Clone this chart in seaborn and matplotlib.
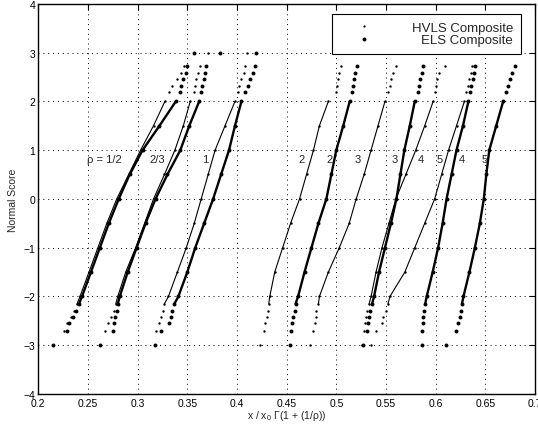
import numpy as np
import pandas as pd
import matplotlib
matplotlib.use('Agg')
import matplotlib.pyplot as plt
from matplotlib.lines import Line2D
import seaborn as sns

# normal score levels (y) shared by all curves
normal_score = [-3.0, -2.7, -2.55, -2.42, -2.3, -2.15, -2.0, -1.5, -1.0, -0.5,
                0.0, 0.5, 1.0, 1.5, 2.0, 2.2, 2.32, 2.45, 2.58, 2.73, 3.0]

nan = np.nan
# x / x0 Gamma(1 + 1/rho) at each normal score
hvls_half = [0.215, 0.226, 0.229, 0.233, 0.236, 0.239, 0.242, 0.251, 0.260, 0.269,
             0.279, 0.291, 0.303, 0.316, 0.3275, 0.332, 0.335, 0.340, 0.344, 0.347, 0.357]
els_half = [0.215, 0.229, 0.231, 0.235, 0.238, 0.241, 0.244, 0.253, 0.262, 0.271,
            0.281, 0.292, 0.305, 0.322, 0.3385, 0.343, 0.344, 0.346, 0.349, 0.350, 0.357]
hvls_23 = [0.262, 0.267, 0.270, 0.273, 0.276, 0.278, 0.280, 0.288, 0.298, 0.307,
           0.316, 0.327, 0.3375, 0.346, 0.353, 0.357, 0.358, 0.359, 0.361, 0.363, 0.371]
els_23 = [0.262, 0.275, 0.276, 0.277, 0.279, 0.280, 0.282, 0.290, 0.299, 0.308,
          0.318, 0.330, 0.343, 0.352, 0.362, 0.364, 0.365, 0.367, 0.368, 0.369, 0.383]
hvls_1 = [0.317, 0.318, 0.322, 0.324, 0.326, 0.327, 0.331, 0.340, 0.349, 0.357,
          0.364, 0.371, 0.378, 0.388, 0.398, 0.401, 0.402, 0.4045, 0.407, 0.408, 0.410]
els_1 = [0.317, 0.324, 0.332, 0.334, 0.335, 0.337, 0.341, 0.350, 0.358, 0.367,
         0.376, 0.384, 0.392, 0.398, 0.4045, 0.408, 0.411, 0.4135, 0.416, 0.418, 0.419]
hvls_2 = [0.423, 0.427, 0.428, 0.430, 0.431, 0.432, 0.433, 0.438, 0.446, 0.454,
          0.463, 0.470, 0.477, 0.483, 0.492, 0.500, 0.501, 0.502, 0.503, 0.505, nan]
els_2 = [0.453, 0.454, 0.455, 0.4567, 0.458, 0.459, 0.4615, 0.468, 0.475, 0.482,
         0.490, 0.495, 0.500, 0.507, 0.5135, 0.516, 0.517, 0.518, 0.519, 0.521, nan]
hvls_3 = [0.474, 0.477, 0.479, 0.4795, 0.480, 0.482, 0.483, 0.492, 0.503, 0.513,
          0.520, 0.528, 0.535, 0.542, 0.549, 0.552, 0.554, 0.5555, 0.557, 0.5605, nan]
els_3 = [0.527, 0.531, 0.532, 0.533, 0.534, 0.536, 0.538, 0.543, 0.549, 0.555,
         0.5605, 0.5645, 0.5685, 0.574, 0.579, 0.582, 0.5835, 0.5845, 0.586, 0.587, nan]
hvls_4 = [0.526, 0.528, 0.529, 0.530, 0.531, 0.533, 0.535, 0.540, 0.546, 0.553,
          0.560, 0.570, 0.580, 0.589, 0.5975, 0.599, 0.600, 0.601, 0.603, 0.609, nan]
els_4 = [0.5865, 0.5865, 0.587, 0.5875, 0.5885, 0.5895, 0.591, 0.597, 0.6025, 0.607,
         0.611, 0.616, 0.621, 0.6275, 0.633, 0.6345, 0.636, 0.6375, 0.639, 0.640, nan]
hvls_5 = [0.535, 0.540, 0.5455, 0.547, 0.550, 0.552, 0.554, 0.569, 0.579, 0.589,
          0.599, 0.606, 0.613, 0.621, 0.629, 0.631, 0.6325, 0.634, 0.6355, 0.637, nan]
els_5 = [0.6105, 0.6205, 0.623, 0.6245, 0.6255, 0.6265, 0.628, 0.634, 0.6395, 0.6445,
         0.6485, 0.651, 0.654, 0.661, 0.668, 0.671, 0.673, 0.675, 0.677, 0.6795, nan]

rho_values = ['1/2', '2/3', '1', '2', '3', '4', '5']
hvls_curves = [hvls_half, hvls_23, hvls_1, hvls_2, hvls_3, hvls_4, hvls_5]
els_curves = [els_half, els_23, els_1, els_2, els_3, els_4, els_5]

curve_labels = ['\u03c1 = 1/2', '2/3', '1', '2', '2', '3', '3', '4', '5', '4', '5']
curve_label_x = [0.267, 0.3195, 0.3677, 0.4653, 0.4935, 0.522, 0.559, 0.585, 0.604, 0.626, 0.6495]
curve_label_y = 0.82

x_ticks = [0.2, 0.25, 0.3, 0.35, 0.4, 0.45, 0.5, 0.55, 0.6, 0.65, 0.7]
y_ticks = [-4, -3, -2, -1, 0, 1, 2, 3, 4]

# long table
rows = []
for mat, curves in [('HVLS Composite', hvls_curves), ('ELS Composite', els_curves)]:
    for rho, xs in zip(rho_values, curves):
        for yv, xv in zip(normal_score, xs):
            rows.append({'x': xv, 'y': yv, 'rho': rho, 'material': mat})
df = pd.DataFrame(rows).dropna()

sns.set_theme(style='white')
plt.rcParams['font.family'] = ['Liberation Sans', 'DejaVu Sans']
plt.rcParams['axes.unicode_minus'] = True

fig = plt.figure(figsize=(5.38, 4.27), dpi=100)
ax = fig.add_axes([0.0712, 0.0749, 0.9232, 0.914])

styles = {'HVLS Composite': dict(lw=0.8, s=3),
          'ELS Composite': dict(lw=1.7, s=8)}

for mat, st in styles.items():
    sub = df[df['material'] == mat]
    mid = sub[(sub['y'] >= -2.15) & (sub['y'] <= 2.0)]
    sns.lineplot(data=mid, x='x', y='y', units='rho', estimator=None, sort=False,
                 color='black', lw=st['lw'], legend=False, ax=ax)
    sns.scatterplot(data=sub, x='x', y='y', color='black', s=st['s'],
                    linewidth=0, legend=False, ax=ax)

for txt, xv in zip(curve_labels, curve_label_x):
    ax.text(xv, curve_label_y, txt, ha='center', va='center', fontsize=8)

ax.set_xlim(0.2, 0.7)
ax.set_ylim(-4, 4)
ax.set_xticks(x_ticks)
ax.set_xticklabels([f'{t:g}' for t in x_ticks])
ax.set_yticks(y_ticks)
ax.set_yticklabels([f'{t:d}'.replace('-', '\u2212') for t in y_ticks])
ax.tick_params(direction='in', length=4, width=0.8, top=True, right=True,
               labelsize=7.5, colors='black', pad=2)
ax.tick_params(axis='x', pad=3)
ax.grid(True, color='black', linestyle=(0, (1, 4)), linewidth=0.7)
for sp in ax.spines.values():
    sp.set_color('black')
    sp.set_linewidth(1.0)

ax.set_xlabel('x / x$_{\\mathregular{0}}$ \u0393(1 + (1/\u03c1))', fontsize=7.5, labelpad=0)
ax.set_ylabel('Normal Score', fontsize=7.5, labelpad=4)

handles = [Line2D([], [], ls='none', marker='o', ms=1.6, mfc='black', mec='none'),
           Line2D([], [], ls='none', marker='o', ms=2.8, mfc='black', mec='none')]
leg = ax.legend(handles, list(styles.keys()), loc='upper right',
                bbox_to_anchor=(0.972, 0.974), borderaxespad=0, fontsize=9.5,
                handlelength=3.7, handletextpad=1.75, labelspacing=0.0,
                borderpad=0.6, fancybox=False, framealpha=1, edgecolor='black')
leg.get_frame().set_linewidth(0.8)

# right-align the legend labels
fig.canvas.draw()
renderer = fig.canvas.get_renderer()
widths = [t.get_window_extent(renderer).width for t in leg.get_texts()]
for t, w in zip(leg.get_texts(), widths):
    t.set_position((max(widths) - w, 0))

fig.savefig('out.png', dpi=100, facecolor='white')
